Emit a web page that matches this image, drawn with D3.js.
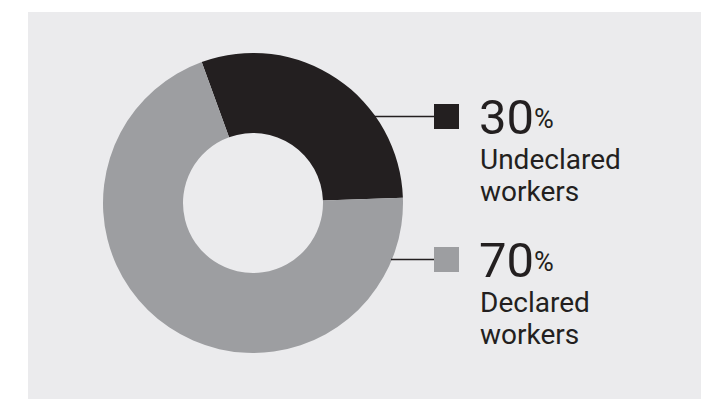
<!DOCTYPE html>
<html>
<head>
<meta charset="utf-8">
<script src="https://cdn.jsdelivr.net/npm/d3@7"></script>
<style>
  html, body { margin: 0; padding: 0; background: #ffffff; }
  svg { display: block; }
  text { font-family: Roboto, "Noto Sans", sans-serif; fill: #231f20; }
</style>
</head>
<body>
<svg id="chart" width="708" height="399"></svg>
<script>
// Share of workers by declaration status
const categories = ["Undeclared workers", "Declared workers"];
const labelLines = [["Undeclared", "workers"], ["Declared", "workers"]];
const values = [30, 70];
const colors = ["#231f20", "#9d9ea1"];

const svg = d3.select("#chart");

// panel background
svg.append("rect")
  .attr("x", 28).attr("y", 12)
  .attr("width", 673).attr("height", 387)
  .attr("fill", "#ebebed");

const cx = 253, cy = 203, rOuter = 150, rInner = 70;
const startDeg = -20;

const pie = d3.pie()
  .sort(null)
  .value(d => d)
  .startAngle(startDeg * Math.PI / 180)
  .endAngle((startDeg + 360) * Math.PI / 180);

const arc = d3.arc().innerRadius(rInner).outerRadius(rOuter);

const g = svg.append("g").attr("transform", `translate(${cx},${cy})`);
const arcs = pie(values);

g.selectAll("path.slice")
  .data(arcs)
  .join("path")
  .attr("class", "slice")
  .attr("d", arc)
  .attr("fill", (d, i) => colors[i]);

// legend entries with leader lines
const legendX = 434, sq = 25;
const legendY = [104, 247];

categories.forEach((c, i) => {
  const y0 = legendY[i];
  const ly = y0 + sq / 2;
  // leader line starts on the outer rim of the ring
  const dy = ly - cy;
  const x0 = cx + Math.sqrt(rOuter * rOuter - dy * dy);
  svg.append("line")
    .attr("x1", x0 - 1).attr("x2", legendX)
    .attr("y1", ly).attr("y2", ly)
    .attr("stroke", "#231f20")
    .attr("stroke-width", 1.4);

  svg.append("rect")
    .attr("x", legendX).attr("y", y0)
    .attr("width", sq).attr("height", sq)
    .attr("fill", colors[i]);

  const tx = 479;
  const base = y0 + 30;
  const num = svg.append("text")
    .attr("x", tx).attr("y", base)
    .attr("font-size", 49);
  num.append("tspan").text(values[i]);
  num.append("tspan")
    .attr("font-size", 27)
    .attr("dx", 0)
    .attr("dy", -6)
    .text("%");

  labelLines[i].forEach((line, j) => {
    svg.append("text")
      .attr("x", tx + 1)
      .attr("y", base + 35 + j * 32)
      .attr("font-size", 28)
      .text(line);
  });
});
</script>
</body>
</html>
